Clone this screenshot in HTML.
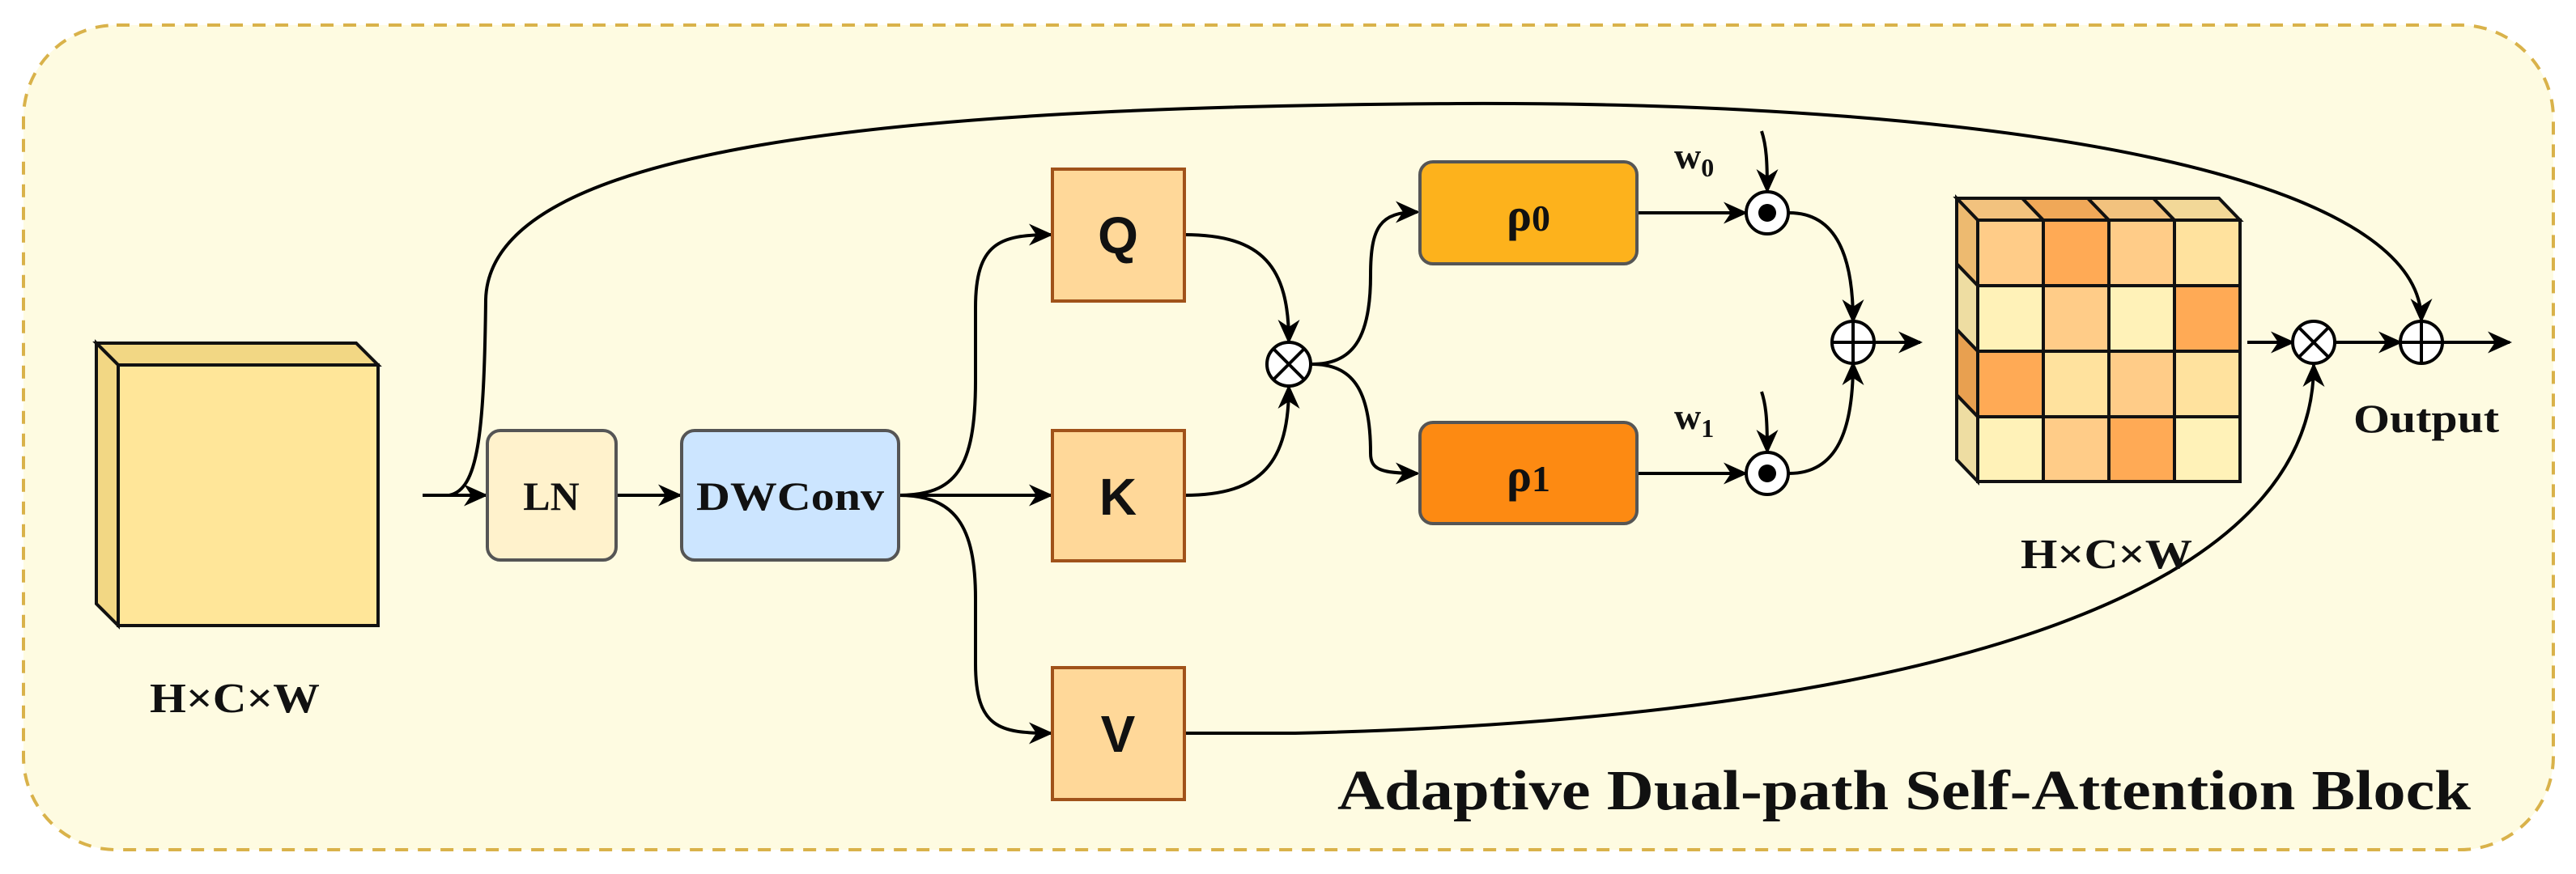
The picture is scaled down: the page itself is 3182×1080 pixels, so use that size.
<!DOCTYPE html>
<html><head><meta charset="utf-8"><style>
html,body{margin:0;padding:0;background:#fff;}
svg{display:block;}
text{font-family:"Liberation Serif",serif;font-weight:bold;fill:#111;}
</style></head><body>
<svg width="3182" height="1080" viewBox="0 0 3182 1080" xmlns="http://www.w3.org/2000/svg">
<defs>
<marker id="a" viewBox="0 0 20 20" refX="18" refY="10" markerWidth="30" markerHeight="30" markerUnits="userSpaceOnUse" orient="auto">
<path d="M0,1 L20,10 L0,19 L6,10 Z" fill="#000"/>
</marker>
</defs>
<rect x="29" y="31" width="3125" height="1019" rx="115" ry="115" fill="#FEFBE1" stroke="#D9B24A" stroke-width="4" stroke-dasharray="16,12"/>

<!-- input cube -->
<polygon points="119,424 440,424 467,451 146,451" fill="#F2D784" stroke="#111" stroke-width="4"/>
<polygon points="119,424 146,451 146,773 119,746" fill="#F2D784" stroke="#111" stroke-width="4"/>
<rect x="146" y="451" width="321" height="322" fill="#FFE699" stroke="#111" stroke-width="4"/>
<text x="290" y="880" font-size="52" text-anchor="middle" textLength="210" lengthAdjust="spacingAndGlyphs">H×C×W</text>

<g fill="none" stroke="#000" stroke-width="4">
<path d="M522,612 L555,612 C590,605 598,540 600,370 C605,180 1100,132 1800,128 C2500,125 2991,220 2991,396" marker-end="url(#a)"/>
<path d="M522,612 L600,612" marker-end="url(#a)"/>
<path d="M761,612 L840,612" marker-end="url(#a)"/>
<path d="M1110,612 C1180,612 1205,580 1205,470 L1205,380 C1205,300 1235,290 1298,290" marker-end="url(#a)"/>
<path d="M1110,612 L1298,612" marker-end="url(#a)"/>
<path d="M1110,612 C1180,612 1205,650 1205,740 L1205,820 C1205,900 1235,906 1298,906" marker-end="url(#a)"/>
<path d="M1463,290 C1560,290 1592,330 1592,422" marker-end="url(#a)"/>
<path d="M1463,612 C1560,612 1592,570 1592,478" marker-end="url(#a)"/>
<path d="M1620,450 C1670,450 1693,420 1693,340 C1693,280 1705,262 1751,262" marker-end="url(#a)"/>
<path d="M1620,450 C1670,450 1693,480 1693,560 C1693,580 1705,585 1751,585" marker-end="url(#a)"/>
<path d="M2022,263 L2156,263" marker-end="url(#a)"/>
<path d="M2022,585 L2156,585" marker-end="url(#a)"/>
<path d="M2176,162 C2182,180 2183,200 2183,236" marker-end="url(#a)"/>
<path d="M2176,484 C2182,502 2183,522 2183,558" marker-end="url(#a)"/>
<path d="M2210,263 C2270,263 2289,320 2289,397" marker-end="url(#a)"/>
<path d="M2210,585 C2270,585 2289,530 2289,449" marker-end="url(#a)"/>
<path d="M2315,423 L2372,423" marker-end="url(#a)"/>
<path d="M2776,423 L2832,423" marker-end="url(#a)"/>
<path d="M2884,423 L2965,423" marker-end="url(#a)"/>
<path d="M3017,423 L3100,423" marker-end="url(#a)"/>
<path d="M1463,906 L1600,906 C2300,890 2858,760 2858,451" marker-end="url(#a)"/>
</g>

<rect x="602" y="532" width="159" height="160" rx="16" fill="#FFF2CC" stroke="#555" stroke-width="4"/>
<text x="681" y="630" font-size="50" text-anchor="middle">LN</text>
<rect x="842" y="532" width="268" height="160" rx="16" fill="#CCE5FF" stroke="#555" stroke-width="4"/>
<text x="976" y="630" font-size="50" text-anchor="middle" textLength="232" lengthAdjust="spacingAndGlyphs">DWConv</text>

<g fill="#FFD899" stroke="#A0521A" stroke-width="4">
<rect x="1300" y="209" width="163" height="163"/>
<rect x="1300" y="532" width="163" height="161"/>
<rect x="1300" y="825" width="163" height="163"/>
</g>
<g font-size="64" text-anchor="middle">
<text x="1381" y="313" style="font-family:'Liberation Sans',sans-serif">Q</text>
<text x="1381" y="636" style="font-family:'Liberation Sans',sans-serif">K</text>
<text x="1381" y="929" style="font-family:'Liberation Sans',sans-serif">V</text>
</g>

<rect x="1754" y="200" width="268" height="126" rx="16" fill="#FDB21C" stroke="#555" stroke-width="4"/>
<text x="1888" y="285" font-size="58" text-anchor="middle">ρ<tspan font-size="46">0</tspan></text>
<rect x="1754" y="522" width="268" height="125" rx="16" fill="#FD8A12" stroke="#555" stroke-width="4"/>
<text x="1888" y="607" font-size="58" text-anchor="middle">ρ<tspan font-size="46">1</tspan></text>

<text x="2068" y="208" font-size="46">w<tspan font-size="32" dy="10">0</tspan></text>
<text x="2068" y="530" font-size="46">w<tspan font-size="32" dy="10">1</tspan></text>

<g stroke="#000" stroke-width="4">
<circle cx="1592" cy="450" r="27" fill="#fff"/>
<line x1="1573" y1="431" x2="1611" y2="469"/><line x1="1611" y1="431" x2="1573" y2="469"/>
<circle cx="2183" cy="263" r="26" fill="#fff"/>
<circle cx="2183" cy="585" r="26" fill="#fff"/>
<circle cx="2289" cy="423" r="26" fill="#fff"/>
<line x1="2263" y1="423" x2="2315" y2="423"/><line x1="2289" y1="397" x2="2289" y2="449"/>
<circle cx="2858" cy="423" r="26" fill="#fff"/>
<line x1="2840" y1="405" x2="2876" y2="441"/><line x1="2876" y1="405" x2="2840" y2="441"/>
<circle cx="2991" cy="423" r="26" fill="#fff"/>
<line x1="2965" y1="423" x2="3017" y2="423"/><line x1="2991" y1="397" x2="2991" y2="449"/>
</g>
<circle cx="2183" cy="263" r="11" fill="#000"/>
<circle cx="2183" cy="585" r="11" fill="#000"/>

<g stroke="#111" stroke-width="4">
<polygon points="2417,245 2443,272 2524,272 2498,245" fill="#F2C27E"/>
<polygon points="2498,245 2524,272 2605,272 2579,245" fill="#F0A858"/>
<polygon points="2579,245 2605,272 2686,272 2660,245" fill="#F2C27E"/>
<polygon points="2660,245 2686,272 2767,272 2741,245" fill="#F2D898"/>
<polygon points="2417,245 2443,272 2443,353 2417,326" fill="#EDBA70"/>
<polygon points="2417,326 2443,353 2443,434 2417,407" fill="#EEDDA2"/>
<polygon points="2417,407 2443,434 2443,515 2417,488" fill="#E8A050"/>
<polygon points="2417,488 2443,515 2443,595 2417,568" fill="#EEDDA2"/>
<rect x="2443" y="272" width="81" height="81" fill="#FFCC88"/>
<rect x="2524" y="272" width="81" height="81" fill="#FFAA55"/>
<rect x="2605" y="272" width="81" height="81" fill="#FFCC88"/>
<rect x="2686" y="272" width="81" height="81" fill="#FFE29E"/>
<rect x="2443" y="353" width="81" height="81" fill="#FFF2B8"/>
<rect x="2524" y="353" width="81" height="81" fill="#FFCC88"/>
<rect x="2605" y="353" width="81" height="81" fill="#FFF2B8"/>
<rect x="2686" y="353" width="81" height="81" fill="#FFAA55"/>
<rect x="2443" y="434" width="81" height="81" fill="#FFAA55"/>
<rect x="2524" y="434" width="81" height="81" fill="#FFE29E"/>
<rect x="2605" y="434" width="81" height="81" fill="#FFCC88"/>
<rect x="2686" y="434" width="81" height="81" fill="#FFE29E"/>
<rect x="2443" y="515" width="81" height="80" fill="#FFF2B8"/>
<rect x="2524" y="515" width="81" height="80" fill="#FFCC88"/>
<rect x="2605" y="515" width="81" height="80" fill="#FFAA55"/>
<rect x="2686" y="515" width="81" height="80" fill="#FFF2B8"/>
</g>
<text x="2602" y="702" font-size="52" text-anchor="middle" textLength="212" lengthAdjust="spacingAndGlyphs">H×C×W</text>
<text x="2997" y="534" font-size="50" text-anchor="middle" textLength="180" lengthAdjust="spacingAndGlyphs">Output</text>
<text x="1652" y="1000" font-size="70" textLength="1400" lengthAdjust="spacingAndGlyphs">Adaptive Dual-path Self-Attention Block</text>
</svg>
</body></html>
